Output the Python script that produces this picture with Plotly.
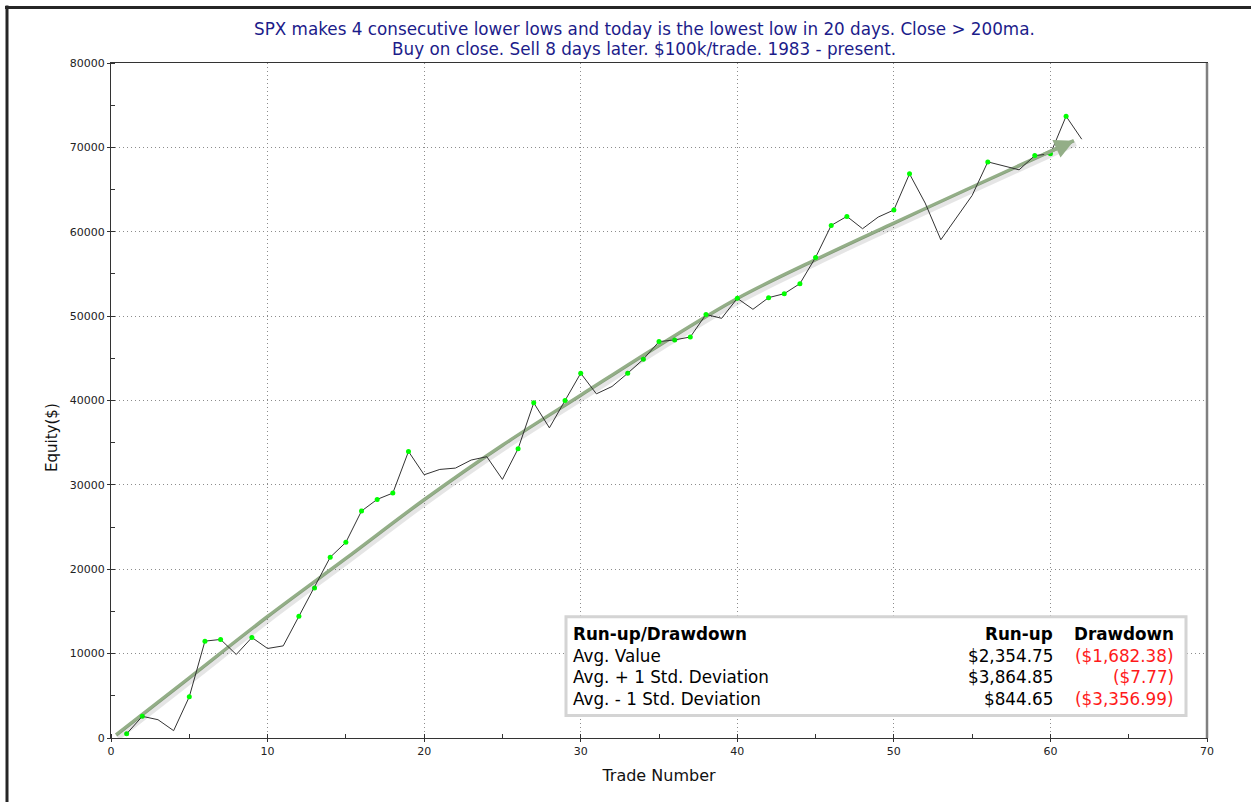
import plotly.graph_objects as go

# ---- data ----
trade_numbers = list(range(1, 63))
equity = [500, 2570, 2170, 870, 4890, 11480, 11680, 9900, 11910, 10610,
          10920, 14440, 17780, 21420, 23190, 26900, 28280, 29030, 33960, 31200,
          31830, 31990, 32940, 33340, 30650, 34280, 39720, 36760, 40000, 43230,
          40790, 41660, 43230, 44890, 46980, 47180, 47530, 50200, 49740, 52110,
          50810, 52190, 52660, 53850, 56960, 60750, 61820, 60360, 61740, 62580,
          66860, 63400, 59050, 61620, 64300, 68280, 67850, 67340, 69030, 69230,
          73690, 70970]
marked_trades = [1, 2, 5, 6, 7, 9, 12, 13, 14, 15, 16, 17, 18, 19, 26, 27, 29, 30,
                 33, 34, 35, 36, 37, 38, 40, 42, 43, 44, 45, 46, 47, 50, 51, 56,
                 59, 60, 61]
marked_equity = [equity[t - 1] for t in marked_trades]

trend_x = [0.32, 5, 10, 15, 20, 25, 30, 35, 40, 45, 50, 55, 61.5]
trend_y = [355, 7140, 14400, 21280, 28240, 34700, 40630, 46530, 52090, 56690,
           61030, 65300, 70800]

title_lines = ["SPX makes 4 consecutive lower lows and today is the lowest low in 20 days. Close > 200ma.",
               "Buy on close. Sell 8 days later. $100k/trade. 1983 - present."]
table_header = ["Run-up/Drawdown", "Run-up", "Drawdown"]
table_rows = ["Avg. Value", "Avg. + 1 Std. Deviation", "Avg. - 1 Std. Deviation"]
runup_vals = ["$2,354.75", "$3,864.85", "$844.65"]
drawdown_vals = ["($1,682.38)", "($7.77)", "($3,356.99)"]

x_range = [0, 70]
y_range = [0, 80000]

# ---- figure ----
W, H = 1251, 802
ml, mr, mt, mb = 111, 44, 62.5, 63.5
pw = W - ml - mr
ph = H - mt - mb

FONT = "DejaVu Sans, Verdana, sans-serif"

def py2paper(py):
    return (H - mb - py) / ph
def px2paper(px):
    return (px - ml) / pw

fig = go.Figure()

# shadow of trend curve (drawn on slightly shifted overlay axes)
dx = 2.0 * (x_range[1] - x_range[0]) / pw
dy = 3.0 * (y_range[1] - y_range[0]) / ph
fig.add_trace(go.Scatter(x=trend_x, y=trend_y, mode="lines",
                         line=dict(color="rgba(0,0,0,0.10)", width=5, shape="spline"),
                         xaxis="x2", yaxis="y2", hoverinfo="skip", showlegend=False))

fig.add_trace(go.Scatter(x=trend_x, y=trend_y, mode="lines",
                         line=dict(color="#93ae87", width=3.5, shape="spline"),
                         hoverinfo="skip", showlegend=False))

fig.add_trace(go.Scatter(x=trade_numbers, y=equity, mode="lines",
                         line=dict(color="#333333", width=1), showlegend=False))
fig.add_trace(go.Scatter(x=marked_trades, y=marked_equity, mode="markers",
                         marker=dict(color="#00ff00", size=5), showlegend=False))

annotations = []
# arrow head at the end of trend
annotations.append(dict(x=trend_x[-1], y=trend_y[-1], ax=trend_x[-2] + 4.5,
                        ay=trend_y[-2] + 4500 * 0.84, xref="x", yref="y",
                        axref="x", ayref="y", text="", showarrow=True,
                        arrowhead=2, arrowsize=1.1, arrowwidth=3.5,
                        arrowcolor="#93ae87"))

# title
for i, t in enumerate(title_lines):
    annotations.append(dict(text=t, xref="paper", yref="paper",
                            x=px2paper(644), y=py2paper(28 + 20 * i),
                            xanchor="center", yanchor="middle", showarrow=False,
                            font=dict(family=FONT, size=16.8, color="#1c1c8a")))

# y axis title
annotations.append(dict(text="Equity($)", xref="paper", yref="paper",
                        x=px2paper(52), y=py2paper(438), textangle=-90,
                        xanchor="center", yanchor="middle", showarrow=False,
                        font=dict(family=FONT, size=15, color="#111")))

# table
TS = 16.8
row_y = [634, 656, 677, 699]
col_left = 571
col_run = 1055
col_dd = 1176
annotations.append(dict(text="<b>%s</b>" % table_header[0], xref="paper", yref="paper",
                        x=px2paper(col_left), y=py2paper(row_y[0]), xanchor="left",
                        yanchor="middle", showarrow=False,
                        font=dict(family=FONT, size=TS, color="#000")))
annotations.append(dict(text="<b>%s</b>" % table_header[1], xref="paper", yref="paper",
                        x=px2paper(col_run), y=py2paper(row_y[0]), xanchor="right",
                        yanchor="middle", showarrow=False,
                        font=dict(family=FONT, size=TS, color="#000")))
annotations.append(dict(text="<b>%s</b>" % table_header[2], xref="paper", yref="paper",
                        x=px2paper(col_dd), y=py2paper(row_y[0]), xanchor="right",
                        yanchor="middle", showarrow=False,
                        font=dict(family=FONT, size=TS, color="#000")))
for i in range(3):
    yy = py2paper(row_y[i + 1])
    annotations.append(dict(text=table_rows[i], xref="paper", yref="paper",
                            x=px2paper(col_left), y=yy, xanchor="left", yanchor="middle",
                            showarrow=False, font=dict(family=FONT, size=TS, color="#000")))
    annotations.append(dict(text=runup_vals[i], xref="paper", yref="paper",
                            x=px2paper(col_run), y=yy, xanchor="right", yanchor="middle",
                            showarrow=False, font=dict(family=FONT, size=TS, color="#000")))
    annotations.append(dict(text=drawdown_vals[i], xref="paper", yref="paper",
                            x=px2paper(col_dd), y=yy, xanchor="right", yanchor="middle",
                            showarrow=False, font=dict(family=FONT, size=TS, color="#ff1a1a")))

shapes = [
    # table box
    dict(type="rect", xref="paper", yref="paper",
         x0=px2paper(566), x1=px2paper(1186), y0=py2paper(716), y1=py2paper(617),
         line=dict(color="#d4d4d4", width=3), fillcolor="white", layer="above"),
    # window frame (top and left)
    dict(type="line", xref="paper", yref="paper", x0=px2paper(5), x1=px2paper(W + 5),
         y0=py2paper(7), y1=py2paper(7), line=dict(color="#262626", width=3)),
    dict(type="line", xref="paper", yref="paper", x0=px2paper(7), x1=px2paper(7),
         y0=py2paper(5), y1=py2paper(H + 5), line=dict(color="#262626", width=3)),
    # right plot border (gray, thicker)
    dict(type="line", xref="paper", yref="paper", x0=1, x1=1, y0=0, y1=1,
         line=dict(color="#808080", width=2.5)),
]

tickfont = dict(family=FONT, size=11, color="#222")
grid = dict(showgrid=True, gridcolor="#8c8c8c", griddash="1px,3px", gridwidth=1)
fig.update_layout(
    width=W, height=H,
    margin=dict(l=ml, r=mr, t=mt, b=mb),
    paper_bgcolor="white", plot_bgcolor="white",
    annotations=annotations, shapes=shapes,
    xaxis=dict(range=x_range, dtick=10, tickformat="d", zeroline=False,
               showline=True, linecolor="#333", linewidth=1, mirror=True,
               ticks="outside", ticklen=3, tickcolor="#333", tickfont=tickfont,
               minor=dict(dtick=5, ticks="inside", ticklen=4, tickcolor="#333", showgrid=False),
               title=dict(text="Trade Number", standoff=12,
                          font=dict(family=FONT, size=16, color="#111")), **grid),
    yaxis=dict(range=y_range, dtick=10000, tickformat="d", zeroline=False,
               showline=True, linecolor="#333", linewidth=1, mirror=True,
               ticks="outside", ticklen=3, tickcolor="#333", tickfont=tickfont,
               minor=dict(dtick=5000, ticks="inside", ticklen=4, tickcolor="#333", showgrid=False),
               **grid),
    xaxis2=dict(range=[x_range[0] - dx, x_range[1] - dx], overlaying="x", visible=False),
    yaxis2=dict(range=[y_range[0] + dy, y_range[1] + dy], overlaying="y", visible=False),
)

fig.write_html("out.html", config={"displayModeBar": False},
               post_script="document.body.style.margin='0';")
